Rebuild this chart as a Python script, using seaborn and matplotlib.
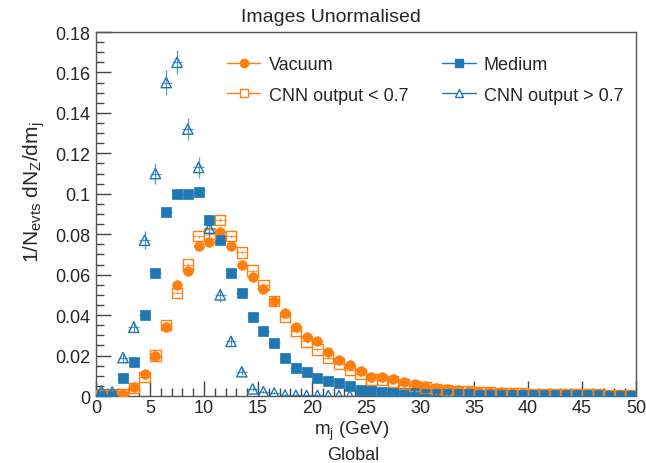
import numpy as np
import pandas as pd
import matplotlib
matplotlib.use("Agg")
import matplotlib.pyplot as plt
import seaborn as sns
from matplotlib.lines import Line2D
from matplotlib.ticker import MultipleLocator, FuncFormatter

# ---------------- data ----------------
bin_centers = np.arange(0.5, 50.0, 1.0)

vacuum = [0.0003, 0.0005, 0.0012, 0.0045, 0.011, 0.020, 0.034, 0.055, 0.062, 0.074,
          0.076, 0.081, 0.074, 0.065, 0.059, 0.053, 0.047, 0.041, 0.034, 0.029,
          0.027, 0.022, 0.018, 0.0155, 0.0125, 0.0095, 0.0092, 0.0085, 0.0070, 0.0058,
          0.0048, 0.0040, 0.0035, 0.0030, 0.0027, 0.0022, 0.0020, 0.0018, 0.0016, 0.0015,
          0.0012, 0.0011, 0.0010, 0.0010, 0.0009, 0.0008, 0.0008, 0.0007, 0.0007, 0.0006]

cnn_low = [0.0002, 0.0004, 0.0010, 0.0040, 0.0095, 0.020, 0.035, 0.051, 0.065, 0.079,
           0.080, 0.087, 0.079, 0.071, 0.062, 0.055, 0.047, 0.039, 0.032, 0.027,
           0.023, 0.019, 0.016, 0.013, 0.011, 0.0082, 0.0078, 0.0072, 0.0060, 0.0050,
           0.0042, 0.0035, 0.0030, 0.0026, 0.0024, 0.0020, 0.0018, 0.0016, 0.0014, 0.0013,
           0.0011, 0.0010, 0.0009, 0.0009, 0.0008, 0.0007, 0.0007, 0.0006, 0.0006, 0.0005]

medium = [0.0008, 0.0012, 0.0088, 0.017, 0.040, 0.061, 0.091, 0.100, 0.100, 0.101,
          0.087, 0.077, 0.061, 0.051, 0.039, 0.032, 0.026, 0.019, 0.014, 0.012,
          0.0088, 0.0072, 0.0064, 0.0050, 0.0032, 0.0032, 0.0022, 0.0022, 0.0016, 0.0014,
          0.0012, 0.0010, 0.0009, 0.0008, 0.0008, 0.0007, 0.0007, 0.0006, 0.0006, 0.0006,
          0.0005, 0.0005, 0.0005, 0.0005, 0.0005, 0.0004, 0.0004, 0.0004, 0.0004, 0.0004]

cnn_high = [0.0025, 0.0020, 0.019, 0.034, 0.077, 0.110, 0.155, 0.165, 0.132, 0.113,
            0.083, 0.050, 0.027, 0.012, 0.0035, 0.0022, 0.0015, 0.0005, 0.0004, 0.0003,
            0.0003, 0.0002, 0.0002, 0.0001, 0.0001, 0.0001, 0.0, 0.0, 0.0, 0.0,
            0.0, 0.0, 0.0, 0.0, 0.0, 0.0, 0.0, 0.0, 0.0, 0.0,
            0.0, 0.0, 0.0, 0.0, 0.0, 0.0, 0.0, 0.0, 0.0, 0.0]

cnn_high_err = [0.002, 0.0015, 0.002, 0.003, 0.0045, 0.005, 0.006, 0.006, 0.0055, 0.005,
                0.0045, 0.0035, 0.0025, 0.0018, 0.001, 0.0008, 0.0006, 0.0005, 0.0004, 0.0003,
                0.0003, 0.0002, 0.0002, 0.0001, 0.0001, 0.0001, 0.0, 0.0, 0.0, 0.0,
                0.0, 0.0, 0.0, 0.0, 0.0, 0.0, 0.0, 0.0, 0.0, 0.0,
                0.0, 0.0, 0.0, 0.0, 0.0, 0.0, 0.0, 0.0, 0.0, 0.0]

labels = ["Vacuum", "Medium", "CNN output < 0.7", "CNN output > 0.7"]

ORANGE = "#ff7f0e"
BLUE = "#1f77b4"

sns.set_style("white")
plt.rcParams['font.family'] = ['Liberation Sans', 'DejaVu Sans']
plt.rcParams['mathtext.fontset'] = 'custom'
plt.rcParams['mathtext.rm'] = 'Liberation Sans'
plt.rcParams['mathtext.it'] = 'Liberation Sans'

fig = plt.figure(figsize=(6.46, 4.64), dpi=100)
ax = fig.add_axes([96/646, 1-397/464, 540/646, 364/464])

series = [
    (vacuum, None, ORANGE, "o", True, 0.0008),
    (cnn_low, None, ORANGE, "s", False, 0.0008),
    (medium, None, BLUE, "s", True, 0.0006),
    (cnn_high, cnn_high_err, BLUE, "^", False, None),
]
order = [0, 2, 1, 3]
for i in order:
    vals, err, col, mk, filled, cerr = series[i]
    df = pd.DataFrame({"x": bin_centers, "y": vals})
    yerr = err if err is not None else cerr
    ax.errorbar(df["x"], df["y"], xerr=0.5, yerr=yerr, fmt="none",
                ecolor=col, elinewidth=0.9, alpha=0.75, zorder=2)
    if filled:
        sns.scatterplot(data=df, x="x", y="y", ax=ax, marker=mk, s=48,
                        color=col, edgecolor=col, linewidth=0.5, zorder=3)
    else:
        sns.scatterplot(data=df, x="x", y="y", ax=ax, marker=mk, s=55,
                        facecolor="none", edgecolor=col, linewidth=1.0, zorder=3)

ax.set_xlim(0, 50)
ax.set_ylim(0, 0.18)
ax.xaxis.set_major_locator(MultipleLocator(5))
ax.xaxis.set_minor_locator(MultipleLocator(1))
ax.yaxis.set_major_locator(MultipleLocator(0.02))
ax.yaxis.set_minor_locator(MultipleLocator(0.005))
ax.yaxis.set_major_formatter(FuncFormatter(lambda v, p: ("%g" % round(v, 4))))
ax.xaxis.set_major_formatter(FuncFormatter(lambda v, p: ("%g" % v)))
ax.tick_params(which="major", direction="in", length=11, width=1, color="#444444",
               labelsize=13, top=False, right=False, left=True, bottom=True, pad=4)
ax.tick_params(which="minor", direction="in", length=5.5, width=1, color="#444444",
               top=False, right=False, left=True, bottom=True)
ax.tick_params(axis="x", pad=2)
for sp in ax.spines.values():
    sp.set_color("#555555")
    sp.set_linewidth(1)

ax.set_xlabel(r"m$_\mathregular{j}$ (GeV)", fontsize=13.5)
ax.xaxis.set_label_coords((352-96)/540, -(23/364))
ax.set_ylabel(r"1/N$_\mathregular{evts}$ dN$_\mathregular{Z}$/dm$_\mathregular{j}$", fontsize=15)
ax.yaxis.set_label_coords(-(96-47)/540, (397-192)/364)

fig.text(331/646, 1-18/464, "Images Unormalised", ha="center", va="center", fontsize=14)
fig.text(353/646, 1-456/464, "Global", ha="center", va="center", fontsize=13)

handles = [
    Line2D([0], [0], color=ORANGE, marker="o", markersize=6, lw=1),
    Line2D([0], [0], color=ORANGE, marker="s", markersize=6, lw=1, mfc="white"),
    Line2D([0], [0], color=BLUE, marker="s", markersize=6, lw=1),
    Line2D([0], [0], color=BLUE, marker="^", markersize=6, lw=1, mfc="white"),
]
leg_labels = [labels[0], labels[2], labels[1], labels[3]]
fig.legend(handles, leg_labels, ncol=2, loc="upper left", frameon=False,
           bbox_to_anchor=(227/646, 1-57/464), borderaxespad=0, borderpad=0,
           fontsize=13, handlelength=1.85, handletextpad=0.45,
           columnspacing=1.9, labelspacing=0.75)

fig.savefig("out.png", dpi=100)
